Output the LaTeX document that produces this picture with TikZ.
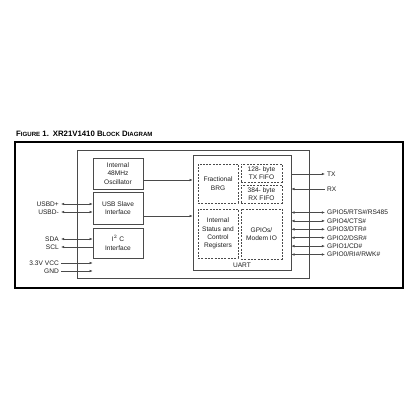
\documentclass[tikz,border=0pt]{standalone}
\usepackage{fontspec}
\newfontfamily\arialfont{Liberation Sans}
\usetikzlibrary{positioning,arrows.meta}
\definecolor{LineGray}{HTML}{4A4A4A}
\definecolor{TextGray}{HTML}{1E1E1E}

\begin{document}
\begin{tikzpicture}[x=1pt, y=-1pt,
  blk/.style  = {draw=LineGray, line width=0.6pt, fill=white, inner sep=0pt,
                 align=center, text=TextGray,
                 font=\arialfont\fontsize{6.6}{8.3}\selectfont},
  dblk/.style = {blk, dashed, dash pattern=on 2pt off 1.3pt},
  pin/.style  = {inner sep=2pt, text=TextGray,
                 font=\arialfont\fontsize{6.6}{8.3}\selectfont},
  arr/.style  = {-{Latex[length=3.2pt,width=2.6pt]}, line width=0.55pt, LineGray},
  larr/.style = {{Latex[length=3.2pt,width=2.6pt]}-, line width=0.55pt, LineGray},
  darr/.style = {{Latex[length=3.2pt,width=2.6pt]}-{Latex[length=3.2pt,width=2.6pt]},
                 line width=0.55pt, LineGray}
]
  \useasboundingbox (0,0) rectangle (416,416);

  % title and frame
  \node[anchor=base west, inner sep=0pt, text=black,
        font=\arialfont\bfseries\fontsize{7.8}{9}\selectfont] (ttl) at (16,136)
    {F{\fontsize{6.1}{7}\selectfont IGURE} 1.\enspace XR21V1410 B{\fontsize{6.1}{7}\selectfont LOCK} D{\fontsize{6.1}{7}\selectfont IAGRAM}};
  \draw[line width=1.8pt] (15,142) rectangle (403,288);

  % chip outline and UART
  \node[blk, minimum width=232pt, minimum height=128pt] (chip) at (193,214) {};
  \node[blk, minimum width=98pt, minimum height=115pt] (uart) at (242,212.5) {};
  \node[pin] (uartlbl) at (242,265) {UART};

  % left blocks
  \node[blk, minimum width=50pt, minimum height=31pt] (osc) at (118,173.5) {Internal\\48MHz\\Oscillator};
  \node[blk, minimum width=50pt, minimum height=32pt] (usb) at (118,208) {USB Slave\\Interface};
  \node[blk, minimum width=50pt, minimum height=30pt] (i2c) at (118,243) {I$^2$ C\\Interface};

  % UART internals
  \node[dblk, minimum width=40pt, minimum height=39pt] (brg)  at (218,183.5) {Fractional\\BRG};
  \node[dblk, minimum width=41pt, minimum height=18pt] (txf)  at (261.5,173) {128- byte\\TX FIFO};
  \node[dblk, minimum width=41pt, minimum height=18pt] (rxf)  at (261.5,194) {384- byte\\RX FIFO};
  \node[dblk, minimum width=40pt, minimum height=49pt] (stat) at (218,233.5) {Internal\\Status and\\Control\\Registers};
  \node[dblk, minimum width=41pt, minimum height=50pt] (gpio) at (261.5,234) {GPIOs/\\Modem IO};

  \draw[arr] ([yshift=-6.5pt]osc.east) -- ([yshift=-6.5pt]osc.east -| uart.west);
  \draw[arr] ([yshift=-8pt]usb.east) -- ([yshift=-8pt]usb.east -| uart.west);

  % left pins
  \node[pin, anchor=east] (usbdp) at (61,204) {USBD+};
  \node[pin, anchor=east] (usbdm) at (61,212) {USBD-};
  \node[pin, anchor=east] (sda)   at (61,239) {SDA};
  \node[pin, anchor=east] (scl)   at (61,247) {SCL};
  \node[pin, anchor=east] (vcc)   at (61,263) {3.3V VCC};
  \node[pin, anchor=east] (gnd)   at (61,271) {GND};

  \foreach \mypin in {usbdp,usbdm}{
    \draw[darr] (\mypin.east) -- (\mypin -| usb.west);
  }
  \draw[darr] (sda.east) -- (sda -| i2c.west);
  \draw[larr] (scl.east) -- (scl -| i2c.west);
  \foreach \mypin in {vcc,gnd}{
    \draw[arr] (\mypin.east) -- (\mypin -| i2c.west);
  }

  % right pins
  \node[pin, anchor=west] (tx) at (325,174) {TX};
  \node[pin, anchor=west] (rx) at (325,189) {RX};
  \draw[arr]  (tx -| uart.east) -- (tx.west);
  \draw[larr] (rx -| uart.east) -- (rx.west);

  \foreach \i/\gpy/\gptxt in {5/212.5/{GPIO5/RTS\#/RS485}, 4/220.9/{GPIO4/CTS\#},
                              3/229.3/{GPIO3/DTR\#}, 2/237.7/{GPIO2/DSR\#},
                              1/246.1/{GPIO1/CD\#}, 0/254.5/{GPIO0/RI\#/RWK\#}}{
    \node[pin, anchor=west] (gp\i) at (325,\gpy) {\gptxt};
    \draw[darr] (gp\i -| uart.east) -- (gp\i.west);
  }
\end{tikzpicture}
\end{document}
